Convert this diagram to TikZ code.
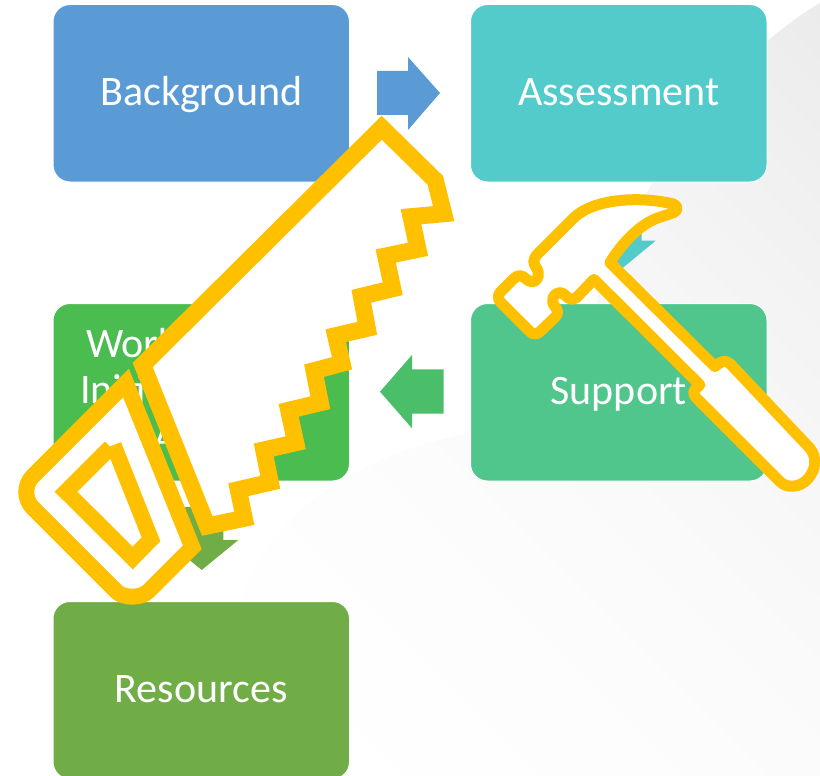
\documentclass[tikz,border=0pt]{standalone}
\usepackage{fontspec}
\setmainfont{Carlito}
\pgfdeclareverticalshading{greyfade}{100bp}{color(0bp)=(white);color(30bp)=(white);color(45bp)=(black!1);color(55bp)=(black!2);color(65bp)=(black!3.5);color(75bp)=(black!5.5);color(85bp)=(black!8);color(100bp)=(black!11)}
\definecolor{cBlue}{HTML}{5B9BD5}
\definecolor{cTeal}{HTML}{54CBCB}
\definecolor{cGreen}{HTML}{4ABC50}
\definecolor{cMint}{HTML}{50C68C}
\definecolor{cOlive}{HTML}{70AD47}
\definecolor{cLeft}{HTML}{4ABE69}
\definecolor{cGold}{HTML}{FFC000}
\tikzset{
  box/.style={draw=white,line width=1pt,rounded corners=17pt,minimum width=296.5pt,minimum height=177.5pt,inner sep=0pt,outer sep=0pt,anchor=north west,text=white,font=\fontsize{42pt}{48pt}\selectfont,text height=25pt,text depth=0pt,align=center},
  boxtext/.style={text=white,font=\fontsize{42pt}{48pt}\selectfont,inner sep=0pt,anchor=base west},
  tool/.style={draw=cGold,fill=white,miter limit=10},
}
\begin{document}
\begin{tikzpicture}[x=1pt,y=-1pt]
\useasboundingbox (0,0) rectangle (820,776);
% soft background
\begin{scope}
\clip (820,3) .. controls (760,38) and (690,110) .. (652,183)
  .. controls (630,225) and (600,270) .. (590,330) -- (480,430)
  -- (470,433) .. controls (380,450) and (310,490) .. (270,543)
  .. controls (235,590) and (215,680) .. (200,776) -- (820,776) -- cycle;
\shade[shading=greyfade,shading angle=-45] (0,-22) rectangle (820,798);
\end{scope}
% boxes
\node[box,fill=cBlue] (bg) at (53,4.5) {Background};
\node[box,fill=cTeal] (as) at (470.5,4.5) {Assessment};
\node[box,fill=cGreen] (wk) at (53,303.5) {};
\node[box,fill=cMint] (su) at (470.5,303.5) {Support};
\node[box,fill=cOlive] (re) at (53,601.5) {Resources};
\node[boxtext] (wk1) at (86,357) {Work};
\node[boxtext] (wk2) at (80,403) {Initi};
\node[boxtext] (wk3) at (153,451) {A};
% block arrows
\fill[cBlue] (377,71) -- (408,71) -- (408,57) -- (440,93) -- (408,130) -- (408,115) -- (377,115) -- cycle;
\fill[cLeft] (443.7,369.3) -- (412,369.3) -- (412,355) -- (380,391.7) -- (412,428.3) -- (412,413.7) -- (443.7,413.7) -- cycle;
\fill[cTeal] (597,207) -- (641.7,207) -- (641.7,240.7) -- (655.7,240.7) -- (619,271) -- (582,240.7) -- (597,240.7) -- cycle;
\fill[cOlive] (180,507) -- (223.3,507) -- (223.3,540) -- (238.3,540) -- (201.7,570) -- (165,540) -- (180,540) -- cycle;
% saw blade
\draw[tool,line width=17pt,line join=miter] (381.7,127.7) -- (435.3,180.3) -- (443.7,213.7) -- (411,216.7) -- (418,249.3)
  -- (385.7,256) -- (392.7,288.7) -- (361.3,296.3) -- (367.3,328.3) -- (335.7,335.7)
  -- (342,363.3) -- (314,370.7) -- (320.3,402.7) -- (288.7,410.3) -- (295.7,442.7)
  -- (263.7,450) -- (270.3,482.3) -- (238.3,489.7) -- (244.3,518.3) -- (207.3,526)
  -- (142.7,365) -- cycle;
% saw handle
\draw[tool,line width=16pt,line join=miter] (126,383) -- (33,476) .. controls (24,485) and (24,499) .. (33,508)
  -- (116.3,591.3) .. controls (123.5,598.5) and (141,598.5) .. (148.3,591.3)
  -- (192.3,547.3) -- cycle;
\draw[draw=cGold,line width=16pt,line join=miter] (113.5,445) -- (151,539.3) -- (132.7,558) -- (66,491.7) -- (110.5,447.2);
% hammer
\begin{scope}[xshift=470pt,yshift=-170pt,x=0.3333pt,y=-0.3333pt]
\draw[tool,line width=11pt,line join=round]
  (420,278) .. controls (465,205) and (520,160) .. (560,145) -- (610,128)
  .. controls (625,122) and (625,108) .. (610,102)
  .. controls (510,78) and (370,85) .. (310,145) -- (200,255)
  .. controls (188,270) and (190,280) .. (198,292)
  .. controls (212,312) and (205,335) .. (185,335)
  .. controls (170,335) and (165,318) .. (150,317)
  .. controls (142,317) and (138,320) .. (130,327) -- (92,365)
  .. controls (83,374) and (83,388) .. (92,397) -- (180,485)
  .. controls (188,494) and (202,494) .. (210,485) -- (255,442)
  .. controls (268,430) and (262,418) .. (255,410)
  .. controls (240,392) and (250,368) .. (270,368)
  .. controls (285,368) and (290,388) .. (308,388)
  .. controls (316,388) and (322,380) .. (330,372) -- (372,328)
  -- (690,645)
  -- (678,655) .. controls (668,664) and (670,675) .. (680,685)
  -- (930,935) .. controls (950,955) and (990,955) .. (1015,925)
  .. controls (1040,895) and (1040,860) .. (1020,835)
  -- (782,583) .. controls (770,570) and (755,570) .. (735,590) -- cycle;
\end{scope}
\end{tikzpicture}
\end{document}
